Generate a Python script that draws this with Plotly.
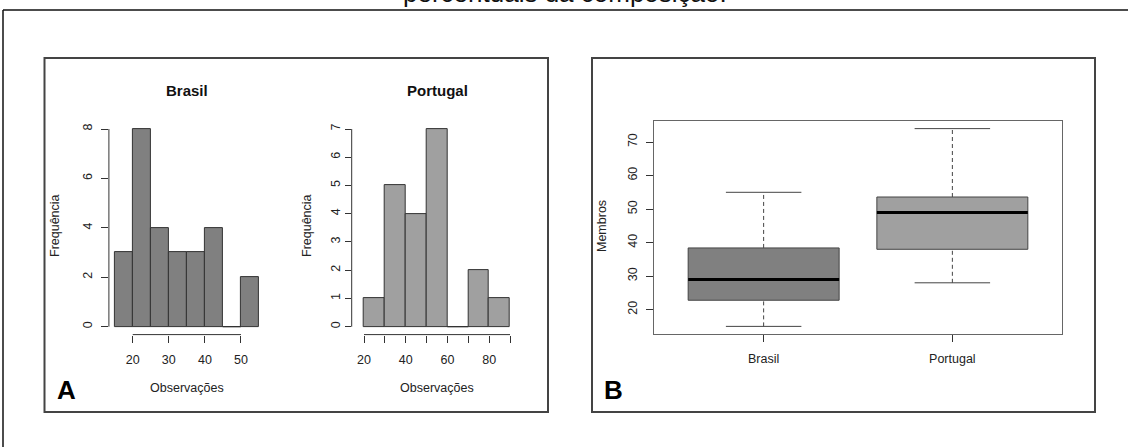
import plotly.graph_objects as go

W, H = 1128, 447

# Histogram data: bin edges and counts per bin
brasil_edges = [15, 20, 25, 30, 35, 40, 45, 50, 55]
brasil_counts = [3, 8, 4, 3, 3, 4, 0, 2]
portugal_edges = [20, 30, 40, 50, 60, 70, 80, 90]
portugal_counts = [1, 5, 4, 7, 0, 2, 1]

brasil_xticks = [20, 30, 40, 50]
brasil_yticks = [0, 2, 4, 6, 8]
portugal_xticks = [20, 30, 40, 50, 60, 70, 80, 90]
portugal_xlabels = ["20", "", "40", "", "60", "", "80", ""]
portugal_yticks = [0, 1, 2, 3, 4, 5, 6, 7]

# Boxplot summary: lower whisker, Q1, median, Q3, upper whisker
groups = ["Brasil", "Portugal"]
box_lower = [15, 28]
box_q1 = [22.8, 38]
box_median = [29, 49]
box_q3 = [38.4, 53.6]
box_upper = [55, 74]
box_yticks = [20, 30, 40, 50, 60, 70]

FONT = "Liberation Sans, Arial, sans-serif"
DARK = "#333333"
TXT = "#222222"
FILLS = ["#808080", "#a0a0a0"]


def fx(px):
    return px / W


def fy(py):
    return 1 - py / H


def hist_traces(edges, counts, color, xa, ya):
    centers = [(a + b) / 2 for a, b in zip(edges[:-1], edges[1:])]
    widths = [b - a for a, b in zip(edges[:-1], edges[1:])]
    out = [go.Bar(x=centers, y=counts, width=widths, xaxis=xa, yaxis=ya,
                  marker=dict(color=color, line=dict(color=DARK, width=1)),
                  hoverinfo="x+y")]
    # empty bins still show their outline along zero
    zx, zy = [], []
    for a, b, c in zip(edges[:-1], edges[1:], counts):
        if c == 0:
            zx += [a, b, None]
            zy += [0, 0, None]
    if zx:
        out.append(go.Scatter(x=zx, y=zy, mode="lines", xaxis=xa, yaxis=ya,
                              line=dict(color=DARK, width=1), hoverinfo="skip"))
    return out


fig = go.Figure()
for t in hist_traces(brasil_edges, brasil_counts, FILLS[0], "x", "y"):
    fig.add_trace(t)
for t in hist_traces(portugal_edges, portugal_counts, FILLS[1], "x2", "y2"):
    fig.add_trace(t)

# Boxplot drawn piece by piece (dashed whiskers, caps, box, thick median)
BOX_HALF = 0.4
CAP_HALF = 0.2
for i, g in enumerate(groups):
    p = i + 1
    fig.add_trace(go.Scatter(
        x=[p, p, None, p, p],
        y=[box_lower[i], box_q1[i], None, box_q3[i], box_upper[i]],
        mode="lines", xaxis="x3", yaxis="y3", hoverinfo="skip",
        line=dict(color="#444444", width=1, dash="4px,3px")))
    fig.add_trace(go.Scatter(
        x=[p - CAP_HALF, p + CAP_HALF, None, p - CAP_HALF, p + CAP_HALF],
        y=[box_lower[i], box_lower[i], None, box_upper[i], box_upper[i]],
        mode="lines", xaxis="x3", yaxis="y3", hoverinfo="skip",
        line=dict(color="#444444", width=1)))
    fig.add_trace(go.Scatter(
        x=[p - BOX_HALF, p + BOX_HALF, p + BOX_HALF, p - BOX_HALF, p - BOX_HALF],
        y=[box_q1[i], box_q1[i], box_q3[i], box_q3[i], box_q1[i]],
        mode="lines", fill="toself", fillcolor=FILLS[i], xaxis="x3", yaxis="y3",
        line=dict(color="#444444", width=1), name=g, hoverinfo="name"))
    fig.add_trace(go.Scatter(
        x=[p - BOX_HALF, p + BOX_HALF], y=[box_median[i], box_median[i]],
        mode="lines", xaxis="x3", yaxis="y3", hoverinfo="skip",
        line=dict(color="#000000", width=3)))

tickfont = dict(family=FONT, size=12.5, color=TXT)
common = dict(showgrid=False, zeroline=False, ticks="outside",
              tickwidth=1, tickcolor=DARK, tickfont=tickfont, fixedrange=True)

box_lo, box_hi = min(box_lower), max(box_upper)
pad = 0.04 * (box_hi - box_lo)

fig.update_layout(
    width=W, height=H, margin=dict(l=0, r=0, t=0, b=0),
    paper_bgcolor="white", plot_bgcolor="rgba(0,0,0,0)",
    showlegend=False, bargap=0,
    font=dict(family=FONT, color=TXT),
    xaxis=dict(domain=[fx(108.9), fx(264.8)], range=[13.4, 56.6], anchor="y",
               tickvals=brasil_xticks, showline=False, ticklen=7,
               ticklabelstandoff=6, **common),
    yaxis=dict(domain=[fy(334.6), fy(121.1)], range=[-0.32, 8.32], anchor="x",
               tickvals=brasil_yticks, tickangle=-90, showline=False, ticklen=7,
               ticklabelstandoff=4, **common),
    xaxis2=dict(domain=[fx(351.7), fx(522.3)], range=[14.1, 95.9], anchor="y2",
                tickvals=portugal_xticks, ticktext=portugal_xlabels, showline=False,
                ticklen=7, ticklabelstandoff=6, **common),
    yaxis2=dict(domain=[fy(334.6), fy(121.1)], range=[-0.28, 7.28], anchor="x2",
                tickvals=portugal_yticks, tickangle=-90, showline=False, ticklen=6,
                ticklabelstandoff=0, **common),
    xaxis3=dict(domain=[fx(654), fx(1062)], range=[0.419, 2.581], anchor="y3",
                tickvals=[1, 2], ticktext=groups, showline=True, mirror=True,
                linecolor="#666666", linewidth=1, ticklen=7,
                ticklabelstandoff=6, **common),
    yaxis3=dict(domain=[fy(334.3), fy(120.7)], range=[box_lo - pad, box_hi + pad],
                anchor="x3", tickvals=box_yticks, tickangle=-90, showline=True,
                mirror=True, linecolor="#666666", linewidth=1, ticklen=7,
                ticklabelstandoff=4, **common),
)

shapes = []
# R-style axis lines spanning first to last tick
for xa, ya, xt, yt in [("x", "y", brasil_xticks, brasil_yticks),
                       ("x2", "y2", portugal_xticks, portugal_yticks)]:
    shapes.append(dict(type="line", xref=xa, yref=ya + " domain", x0=xt[0], x1=xt[-1],
                       y0=0, y1=0, line=dict(color=DARK, width=1)))
    shapes.append(dict(type="line", xref=xa + " domain", yref=ya, x0=0, x1=0,
                       y0=yt[0], y1=yt[-1], line=dict(color=DARK, width=1)))
# panel frames
for x0, x1 in [(44.5, 548), (592, 1095)]:
    shapes.append(dict(type="rect", xref="paper", yref="paper", x0=fx(x0), x1=fx(x1),
                       y0=fy(412), y1=fy(58), line=dict(color="#444444", width=2)))
# outer page border
shapes.append(dict(type="line", xref="paper", yref="paper", x0=fx(3), x1=1,
                   y0=fy(10), y1=fy(10), line=dict(color="#111111", width=1.5)))
shapes.append(dict(type="line", xref="paper", yref="paper", x0=fx(3), x1=fx(3),
                   y0=fy(10), y1=0, line=dict(color="#111111", width=1.5)))
fig.update_layout(shapes=shapes)


def label(text, x, y, size=12.5, bold=False, angle=0, color=TXT, **kw):
    return dict(text=f"<b>{text}</b>" if bold else text, x=fx(x), y=fy(y),
                xref="paper", yref="paper", showarrow=False, textangle=angle,
                xanchor=kw.get("xanchor", "center"), yanchor=kw.get("yanchor", "middle"),
                font=dict(family=FONT, size=size, color=color))


annotations = [
    label("percentuais da composição.", 565, 10, size=26, color="#111111", yanchor="bottom"),
    label("Brasil", 187, 91, size=15, bold=True, color="#111111"),
    label("Portugal", 437, 91, size=15, bold=True, color="#111111"),
    label("Frequência", 55, 226, angle=-90),
    label("Frequência", 307, 226, angle=-90),
    label("Observações", 187, 388),
    label("Observações", 437, 388),
    label("Membros", 602, 226, angle=-90),
    label("A", 66, 390, size=26, bold=True, color="#000000"),
    label("B", 613, 390, size=26, bold=True, color="#000000"),
]
fig.update_layout(annotations=annotations)

fig.write_html("out.html")
